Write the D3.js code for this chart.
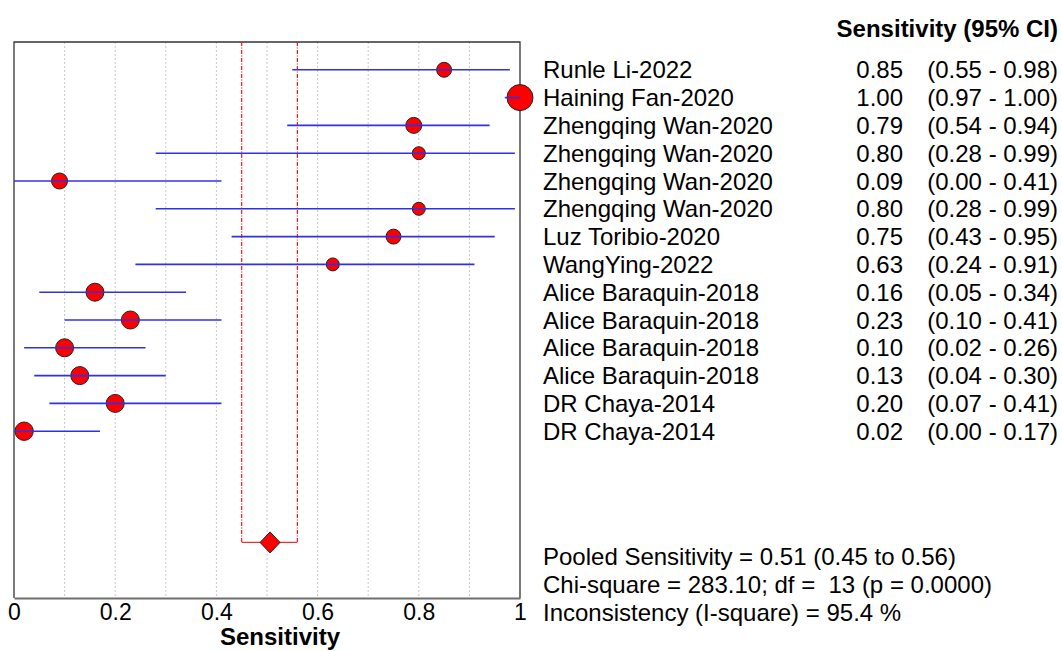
<!DOCTYPE html>
<html>
<head>
<meta charset="utf-8">
<script src="https://d3js.org/d3.v7.min.js"></script>
<style>
  body { margin: 0; background: #fff; }
  text { font-family: "Liberation Sans", Arial, sans-serif; fill: #000; white-space: pre; }
</style>
</head>
<body>
<div id="forest"></div>
<script>
// study data
var studies = ["Runle Li-2022", "Haining Fan-2020", "Zhengqing Wan-2020", "Zhengqing Wan-2020",
  "Zhengqing Wan-2020", "Zhengqing Wan-2020", "Luz Toribio-2020", "WangYing-2022",
  "Alice Baraquin-2018", "Alice Baraquin-2018", "Alice Baraquin-2018", "Alice Baraquin-2018",
  "DR Chaya-2014", "DR Chaya-2014"];
var sens = [0.85, 1.00, 0.79, 0.80, 0.09, 0.80, 0.75, 0.63, 0.16, 0.23, 0.10, 0.13, 0.20, 0.02];
var lower = [0.55, 0.97, 0.54, 0.28, 0.00, 0.28, 0.43, 0.24, 0.05, 0.10, 0.02, 0.04, 0.07, 0.00];
var upper = [0.98, 1.00, 0.94, 0.99, 0.41, 0.99, 0.95, 0.91, 0.34, 0.41, 0.26, 0.30, 0.41, 0.17];
// relative study weight (sets the marker area)
var weights = [33, 100, 38, 25, 38, 25, 33, 25, 48, 48, 48, 48, 48, 50];

// pooled estimate
var pooled = 0.506;
var pooledLow = 0.45;
var pooledHigh = 0.56;
var statsText = ["Pooled Sensitivity = 0.51 (0.45 to 0.56)",
  "Chi-square = 283.10; df =  13 (p = 0.0000)",
  "Inconsistency (I-square) = 95.4 %"];

var xTicks = [0, 0.2, 0.4, 0.6, 0.8, 1];
var gridTicks = d3.range(1, 10).map(function(d) { return d / 10; });

var svgWidth = 1062;
var svgHeight = 651;

var svg = d3.select("#forest")
  .append("svg")
  .attr("width", svgWidth)
  .attr("height", svgHeight);

// scales: x for sensitivity, y for row index (-1 is the top frame, 19 the axis)
var xScale = d3.scaleLinear().domain([0, 1]).range([14, 520]);
var yScale = d3.scaleLinear().domain([-1, 19]).range([42, 598]);
var rScale = d3.scaleSqrt().domain([0, 100]).range([0, 13]);
var pooledRow = 17;

// dotted grid lines
svg.selectAll(".grid")
  .data(gridTicks)
  .enter()
  .append("line")
  .attr("class", "grid")
  .attr("x1", function(d) { return xScale(d); })
  .attr("x2", function(d) { return xScale(d); })
  .attr("y1", yScale(-1))
  .attr("y2", yScale(19))
  .attr("stroke", "#c8c8c8")
  .attr("stroke-width", 1)
  .attr("stroke-dasharray", "2,2");

// frame (left, top, right)
svg.append("path")
  .attr("d", "M" + xScale(0) + "," + yScale(19) + "V" + yScale(-1) + "H" + xScale(1) + "V" + yScale(19))
  .attr("fill", "none")
  .attr("stroke", "#333")
  .attr("stroke-width", 1.3);

// pooled CI lines
[pooledLow, pooledHigh].forEach(function(v) {
  svg.append("line")
    .attr("x1", xScale(v))
    .attr("x2", xScale(v))
    .attr("y1", yScale(-1))
    .attr("y2", yScale(pooledRow))
    .attr("stroke", "#ff0000")
    .attr("stroke-width", 1.1)
    .attr("stroke-dasharray", "4,1.5,1,1.5");
});
svg.append("line")
  .attr("x1", xScale(pooledLow))
  .attr("x2", xScale(pooledHigh))
  .attr("y1", yScale(pooledRow))
  .attr("y2", yScale(pooledRow))
  .attr("stroke", "#f03030")
  .attr("stroke-width", 1.3);

// study markers
var rows = studies.map(function(s, i) {
  return { name: s, est: sens[i], lo: lower[i], hi: upper[i], w: weights[i], row: i };
});

svg.selectAll(".studyDot")
  .data(rows)
  .enter()
  .append("circle")
  .attr("class", "studyDot")
  .attr("cx", function(d) { return xScale(d.est); })
  .attr("cy", function(d) { return yScale(d.row); })
  .attr("r", function(d) { return rScale(d.w); })
  .attr("fill", "#ff0000")
  .attr("stroke", "#222")
  .attr("stroke-width", 1);

// confidence intervals drawn over the markers
svg.selectAll(".ci")
  .data(rows)
  .enter()
  .append("line")
  .attr("class", "ci")
  .attr("x1", function(d) { return xScale(d.lo); })
  .attr("x2", function(d) { return xScale(d.hi); })
  .attr("y1", function(d) { return yScale(d.row); })
  .attr("y2", function(d) { return yScale(d.row); })
  .attr("stroke", "#3030e6")
  .attr("stroke-width", 1.6);

// pooled diamond
var dx = 10, dy = 10.5;
var px = xScale(pooled), py = yScale(pooledRow);
svg.append("path")
  .attr("d", "M" + (px - dx) + "," + py + "L" + px + "," + (py - dy) + "L" + (px + dx) + "," + py + "L" + px + "," + (py + dy) + "Z")
  .attr("fill", "#ff0000")
  .attr("stroke", "#222")
  .attr("stroke-width", 1);

// x axis
var xAxis = d3.axisBottom(xScale)
  .tickValues(xTicks)
  .tickSize(0)
  .tickPadding(6)
  .tickFormat(function(d) { return d === 0 || d === 1 ? d3.format("d")(d) : d3.format(".1f")(d); });

var axisG = svg.append("g")
  .attr("class", "xAxis")
  .attr("transform", "translate(0," + yScale(19) + ")")
  .call(xAxis);
axisG.select(".domain").attr("stroke", "#6e6e6e").attr("stroke-width", 2.2);
axisG.selectAll("text")
  .style("font-family", "'Liberation Sans', Arial, sans-serif")
  .style("font-size", "23px")
  .attr("fill", "#000");

svg.append("text")
  .attr("x", 280)
  .attr("y", 645)
  .attr("text-anchor", "middle")
  .style("font-size", "24px")
  .style("font-weight", "bold")
  .text("Sensitivity");

// right-hand table
svg.append("text")
  .attr("x", 1058)
  .attr("y", 37)
  .attr("text-anchor", "end")
  .style("font-size", "24px")
  .style("font-weight", "bold")
  .text("Sensitivity (95% CI)");

var fmt = d3.format(".2f");
var rowText = svg.selectAll(".rowText")
  .data(rows)
  .enter()
  .append("g")
  .attr("class", "rowText")
  .attr("transform", function(d) { return "translate(0," + yScale(d.row) + ")"; });

rowText.append("text")
  .attr("x", 543)
  .attr("dy", "0.36em")
  .style("font-size", "24px")
  .text(function(d) { return d.name; });

rowText.append("text")
  .attr("x", 903)
  .attr("dy", "0.36em")
  .attr("text-anchor", "end")
  .style("font-size", "24px")
  .text(function(d) { return fmt(d.est); });

rowText.append("text")
  .attr("x", 1058)
  .attr("dy", "0.36em")
  .attr("text-anchor", "end")
  .style("font-size", "24px")
  .text(function(d) { return "(" + fmt(d.lo) + " - " + fmt(d.hi) + ")"; });

// heterogeneity statistics
svg.selectAll(".stats")
  .data(statsText)
  .enter()
  .append("text")
  .attr("class", "stats")
  .attr("x", 543)
  .attr("y", function(d, i) { return yScale(17.5 + i); })
  .attr("dy", "0.36em")
  .style("font-size", "24px")
  .text(function(d) { return d; });
</script>
</body>
</html>
